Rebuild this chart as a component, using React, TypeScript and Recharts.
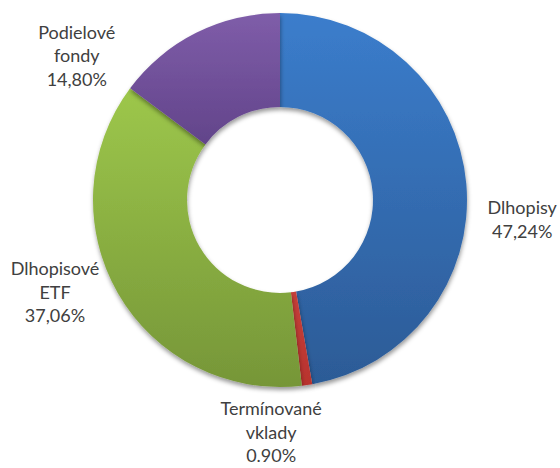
import { PieChart, Pie, Cell } from 'recharts';

const categories = ['Dlhopisy', 'Termínované vklady', 'Dlhopisové ETF', 'Podielové fondy'];
const shares = [47.24, 0.9, 37.06, 14.8];
const shareLabels = ['47,24%', '0.90%', '37,06%', '14,80%'];

// label lines as drawn in the original (manual breaks)
const nameLines = [['Dlhopisy'], ['Termínované', 'vklady'], ['Dlhopisové', 'ETF'], ['Podielové', 'fondy']];

const data = categories.map((name, i) => ({ name, value: shares[i] }));

const gradients = [
  { id: 'gBlue', top: '#3b7dcc', bottom: '#2c5b96' },
  { id: 'gRed', top: '#c6403a', bottom: '#b8332e' },
  { id: 'gGreen', top: '#9dc74b', bottom: '#769638' },
  { id: 'gPurple', top: '#7f5da9', bottom: '#62448a' },
];

// Excel "best fit" label placement: angle nudge (deg) and distance from centre
const labelNudge = [-9.5, -10.5, -7.8, 27.9];
const labelDist = [243, 232, 243, 249.5];
const lineH = 23.5;

const RADIAN = Math.PI / 180;

const renderLabel = (props: any) => {
  const { cx, cy, midAngle, index } = props;
  const a = (midAngle + labelNudge[index]) * RADIAN;
  const x = cx + labelDist[index] * Math.cos(a);
  const y = cy - labelDist[index] * Math.sin(a);
  const lines = [...nameLines[index], shareLabels[index]];
  const startY = y - ((lines.length - 1) * lineH) / 2;
  return (
    <text
      key={`lbl-${index}`}
      x={x}
      y={startY}
      textAnchor="middle"
      dominantBaseline="central"
      fill="#404040"
      fontFamily="Lato, 'Open Sans', sans-serif"
      fontSize={18}
    >
      {lines.map((ln, i) => (
        <tspan key={i} x={x} y={startY + i * lineH}>
          {ln}
        </tspan>
      ))}
    </text>
  );
};

export default function App() {
  return (
    <div style={{ width: 560, height: 468, background: '#fff' }}>
      <style>{'body{margin:0}'}</style>
      <PieChart width={560} height={468} margin={{ top: 0, right: 0, bottom: 0, left: 0 }}>
        <defs>
          {gradients.map((g) => (
            <linearGradient key={g.id} id={g.id} x1="0" y1="0" x2="0" y2="1">
              <stop offset="0%" stopColor={g.top} />
              <stop offset="100%" stopColor={g.bottom} />
            </linearGradient>
          ))}
          <filter id="shadow" x="-10%" y="-10%" width="120%" height="120%">
            <feDropShadow dx="0.5" dy="3" stdDeviation="2.2" floodColor="#000" floodOpacity="0.4" />
          </filter>
        </defs>
        <Pie
          data={data}
          dataKey="value"
          nameKey="name"
          cx={280}
          cy={200}
          innerRadius={93}
          outerRadius={187}
          startAngle={90}
          endAngle={-270}
          stroke="none"
          labelLine={false}
          label={renderLabel}
          isAnimationActive={false}
          style={{ filter: 'url(#shadow)' }}
        >
          {data.map((d, i) => (
            <Cell key={d.name} fill={`url(#${gradients[i].id})`} stroke="none" />
          ))}
        </Pie>
      </PieChart>
    </div>
  );
}
